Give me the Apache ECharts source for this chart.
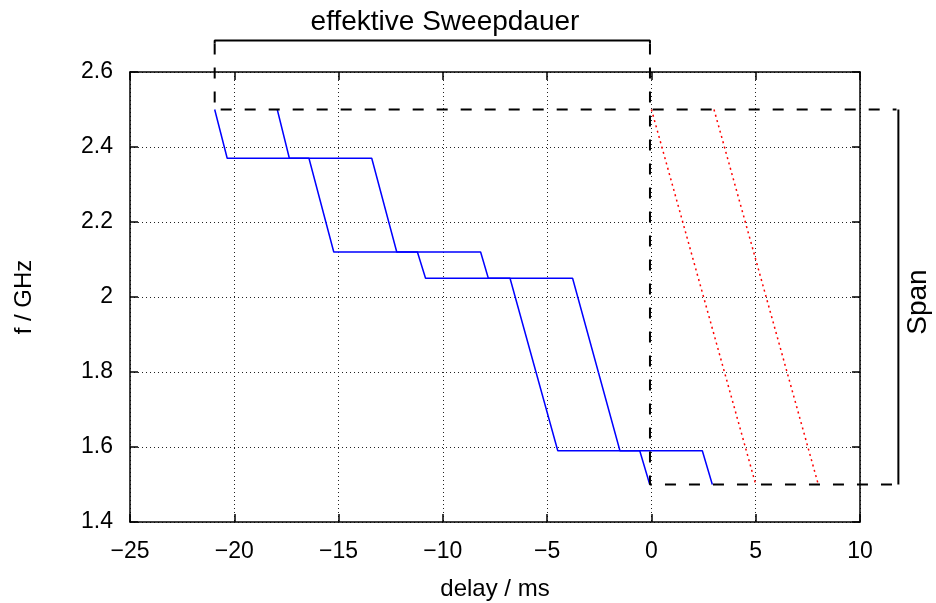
<!DOCTYPE html>
<html>
<head>
<meta charset="utf-8">
<script src="https://cdn.jsdelivr.net/npm/echarts@6/dist/echarts.min.js"></script>
<style>
html,body{margin:0;padding:0;background:#fff;}
#chart{width:936px;height:603px;}
</style>
</head>
<body>
<div id="chart"></div>
<script>
// ---- data (delay in ms, frequency in GHz) ----
const sweepA = [[-20.94, 2.5], [-20.34, 2.37], [-13.41, 2.37], [-12.21, 2.12], [-8.19, 2.12], [-7.82, 2.05], [-3.78, 2.05], [-1.51, 1.59], [2.44, 1.59], [2.92, 1.5]];
const sweepB = [[-17.94, 2.5], [-17.36, 2.37], [-16.42, 2.37], [-15.23, 2.12], [-11.22, 2.12], [-10.83, 2.05], [-6.78, 2.05], [-4.49, 1.59], [-0.56, 1.59], [-0.08, 1.5]];
const rampA = [[0, 2.5], [5, 1.5]];
const rampB = [[3, 2.5], [8, 1.5]];
const guideTop = [[-20.94, 2.676], [-20.94, 2.5], [11.75, 2.5]];
const guideBottom = [[-0.07, 2.676], [-0.07, 1.5], [11.75, 1.5]];
const bracket = [[-20.94, 2.676], [-20.94, 2.684], [-0.07, 2.684], [-0.07, 2.676]];
const spanBar = [[11.84, 2.5], [11.84, 1.5]];
const xRange = {min: -25, max: 10, interval: 5};
const yRange = {min: 1.4, max: 2.6, interval: 0.2};
const xOverlayMax = 15; // wider hidden scale for annotations right of the frame
const titleText = 'effektive Sweepdauer';
const spanText = 'Span';
const xName = 'delay / ms';
const yName = 'f / GHz';

const FONT = 'Liberation Sans';
const fmt = v => String(v).replace('-', '\u2212');
const axisLine = {show: true, onZero: false, lineStyle: {color: '#000', width: 1.5}};
const tick = {show: true, inside: true, length: 8, lineStyle: {color: '#000', width: 1.5}};
const grid = {show: true, lineStyle: {color: '#222', width: 1, type: [1, 3]}};

const G = {left: 130, top: 72, width: 730, height: 450};
const overlayWidth = G.width * (xOverlayMax - xRange.min) / (xRange.max - xRange.min);

const chart = echarts.init(document.getElementById('chart'), null, {renderer: 'canvas'});
function lineSeries(data, color, width, type, z, idx) {
  return {type: 'line', data: data, showSymbol: false, symbol: 'none', clip: false, z: z,
    xAxisIndex: idx, yAxisIndex: idx,
    lineStyle: {color: color, width: width, type: type}, silent: true, animation: false};
}
chart.setOption({
  animation: false,
  backgroundColor: '#fff',
  grid: [
    {left: G.left, top: G.top, width: G.width, height: G.height, containLabel: false, outerBoundsMode: 'none'},
    {left: G.left, top: G.top, width: overlayWidth, height: G.height, containLabel: false, outerBoundsMode: 'none'}
  ],
  xAxis: [
    {type: 'value', gridIndex: 0, position: 'bottom', min: xRange.min, max: xRange.max, interval: xRange.interval,
     axisLine: axisLine, axisTick: tick, splitLine: grid,
     axisLabel: {color: '#000', fontFamily: FONT, fontSize: 23, margin: 18, formatter: fmt},
     name: xName, nameLocation: 'middle', nameGap: 55,
     nameTextStyle: {color: '#000', fontFamily: FONT, fontSize: 24}},
    {type: 'value', gridIndex: 0, position: 'top', min: xRange.min, max: xRange.max, interval: xRange.interval,
     axisLine: axisLine, axisTick: tick, splitLine: {show: false}, axisLabel: {show: false}},
    {type: 'value', gridIndex: 1, min: xRange.min, max: xOverlayMax, show: false}
  ],
  yAxis: [
    {type: 'value', gridIndex: 0, position: 'left', min: yRange.min, max: yRange.max, interval: yRange.interval,
     axisLine: axisLine, axisTick: tick, splitLine: grid,
     axisLabel: {color: '#000', fontFamily: FONT, fontSize: 23, margin: 17, formatter: fmt},
     name: yName, nameLocation: 'middle', nameGap: 94, nameRotate: 90,
     nameTextStyle: {color: '#000', fontFamily: FONT, fontSize: 24}},
    {type: 'value', gridIndex: 0, position: 'right', min: yRange.min, max: yRange.max, interval: yRange.interval,
     axisLine: axisLine, axisTick: tick, splitLine: {show: false}, axisLabel: {show: false}},
    {type: 'value', gridIndex: 1, min: yRange.min, max: yRange.max, show: false}
  ],
  series: [
    lineSeries(sweepA, '#0000ff', 1.5, 'solid', 3, 0),
    lineSeries(sweepB, '#0000ff', 1.5, 'solid', 3, 0),
    lineSeries(rampA, '#ff0000', 1.5, [2, 3.5], 3, 0),
    lineSeries(rampB, '#ff0000', 1.5, [2, 3.5], 3, 0),
    lineSeries(guideTop, '#000', 2, [11, 13], 4, 2),
    lineSeries(guideBottom, '#000', 2, [11, 13], 4, 2),
    lineSeries(bracket, '#000', 2, 'solid', 4, 2),
    lineSeries(spanBar, '#000', 2, 'solid', 4, 2)
  ],
  graphic: [
    {type: 'text', x: 445, y: 22, style: {text: titleText, fontFamily: FONT, fontSize: 28, fill: '#000', align: 'center', verticalAlign: 'middle'}},
    {type: 'text', x: 918, y: 302, rotation: Math.PI / 2, style: {text: spanText, fontFamily: FONT, fontSize: 28, fill: '#000', align: 'center', verticalAlign: 'middle'}}
  ]
});
</script>
</body>
</html>
